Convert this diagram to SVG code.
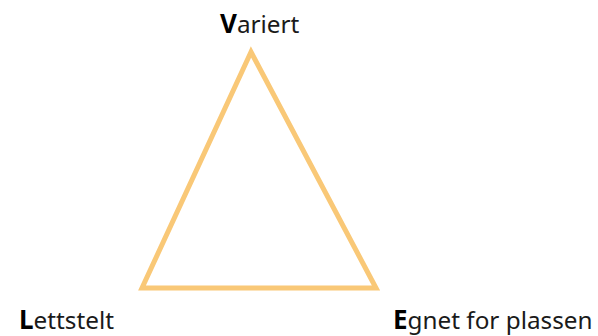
<svg xmlns="http://www.w3.org/2000/svg" width="598" height="336" viewBox="0 0 598 336">
<style>
.t{font-family:"Noto Sans","Liberation Sans",sans-serif;font-size:24.3px;fill:#1a1a1a}
.b{font-weight:bold;font-size:26px;fill:#000}
</style>
<rect width="598" height="336" fill="#fff"/>
<g id="connectors">
<polygon points="251,52 142,288 376,288" fill="none" stroke="#F9C877" stroke-width="5" stroke-linejoin="miter"/>
</g>
<g id="variert"><text class="t" x="220" y="33"><tspan class="b">V</tspan>ariert</text></g>
<g id="lettstelt"><text class="t" x="19" y="329"><tspan class="b">L</tspan>ettstelt</text></g>
<g id="egnet"><text class="t" x="393" y="329"><tspan class="b">E</tspan>gnet for plassen</text></g>
</svg>
